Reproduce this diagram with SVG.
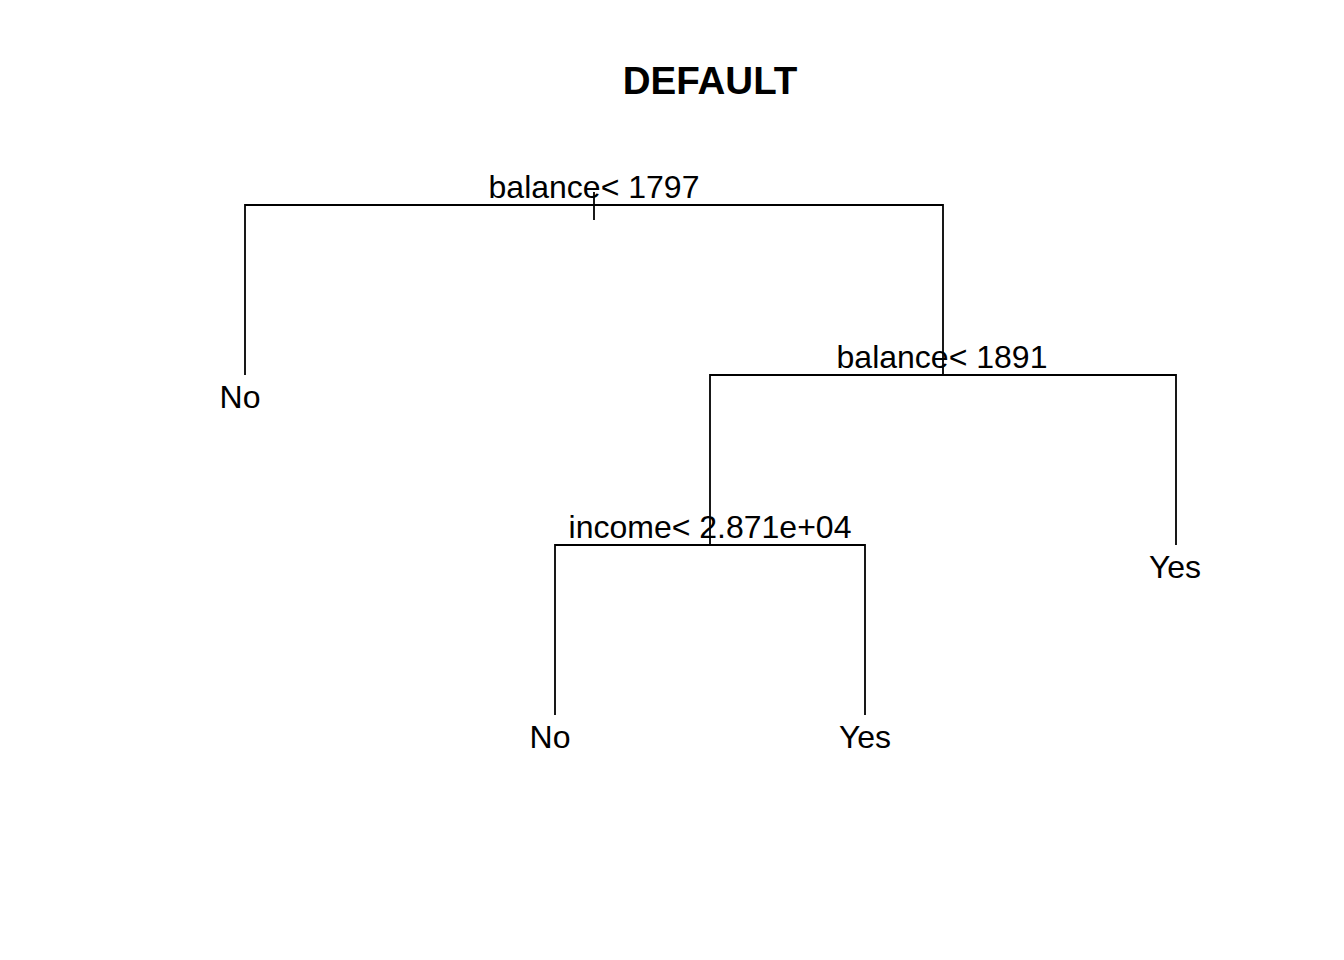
<svg xmlns="http://www.w3.org/2000/svg" width="1344" height="960" viewBox="0 0 1344 960">
<style>
.e{stroke:#000;stroke-width:1.8;fill:none;stroke-linecap:butt}
.t{font-family:"Liberation Sans",Arial,sans-serif;font-size:32px;fill:#000;text-anchor:middle}
.h{font-family:"Liberation Sans",Arial,sans-serif;font-size:38.5px;font-weight:bold;fill:#000;text-anchor:middle}
</style>
<rect width="1344" height="960" fill="#fff"/>
<text class="h" x="710" y="94">DEFAULT</text>
<g id="connectors">
<path class="e" d="M594 192V220"/>
<path class="e" d="M245 375V205H943V375"/>
<path class="e" d="M710 545V375H1176V545"/>
<path class="e" d="M555 715V545H865V715"/>
</g>
<g id="n1"><text class="t" x="594" y="198">balance&lt; 1797</text></g>
<g id="n2"><text class="t" x="240" y="408">No</text></g>
<g id="n3"><text class="t" x="942" y="368">balance&lt; 1891</text></g>
<g id="n6"><text class="t" x="710" y="538">income&lt; 2.871e+04</text></g>
<g id="n7"><text class="t" x="1175" y="578">Yes</text></g>
<g id="n12"><text class="t" x="550" y="748">No</text></g>
<g id="n13"><text class="t" x="865" y="748">Yes</text></g>
</svg>
